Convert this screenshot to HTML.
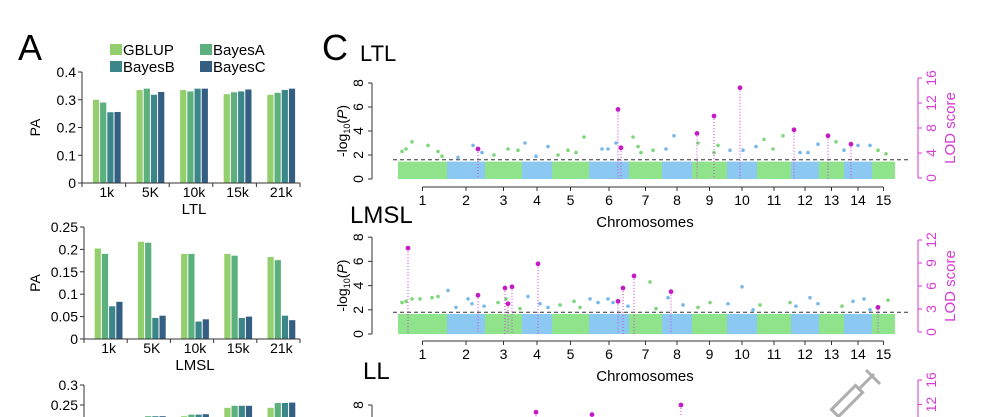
<!DOCTYPE html>
<html><head><meta charset="utf-8">
<style>
html,body{margin:0;padding:0;background:#fff;overflow:hidden;width:981px;height:417px;}
svg{display:block;font-family:"Liberation Sans",Arial,sans-serif;}
</style></head>
<body>
<svg id="fig" width="981" height="417" viewBox="0 0 981 417"></svg>
<script>
// ---------- Panel A data ----------
const barCats = ["1k","5K","10k","15k","21k"];
const methods = ["GBLUP","BayesA","BayesB","BayesC"];
const ltlGBLUP  = [0.300,0.335,0.335,0.320,0.318];
const ltlBayesA = [0.290,0.340,0.330,0.327,0.325];
const ltlBayesB = [0.255,0.318,0.340,0.330,0.335];
const ltlBayesC = [0.256,0.328,0.340,0.337,0.340];
const lmslGBLUP  = [0.202,0.217,0.190,0.190,0.183];
const lmslBayesA = [0.190,0.215,0.190,0.186,0.176];
const lmslBayesB = [0.073,0.047,0.039,0.047,0.052];
const lmslBayesC = [0.083,0.052,0.044,0.050,0.042];
const llGBLUP  = [0.195,0.218,0.222,0.243,0.243];
const llBayesA = [0.195,0.222,0.226,0.248,0.255];
const llBayesB = [0.195,0.222,0.226,0.248,0.255];
const llBayesC = [0.195,0.222,0.227,0.248,0.256];
const ltlTicks = [0,0.1,0.2,0.3,0.4];
const ltlTickLabels = ["0","0.1","0.2","0.3","0.4"];
const lmslTicks = [0,0.05,0.1,0.15,0.2,0.25];
const lmslTickLabels = ["0","0.05","0.1","0.15","0.2","0.25"];
const llTicks = [0.2,0.25,0.3];
const llTickLabels = ["0.2","0.25","0.3"];
const colors = ["#93cf6c","#5bb07d","#3b8689","#355f82"];

// ---------- Panel C data ----------
const chrNames = ["1","2","3","4","5","6","7","8","9","10","11","12","13","14","15"];
const chrLengths = [49,38,37,30,37,40,33,30,35,30,34,28,25,28,23];
const ltlThreshold = 1.6;
const lmslThreshold = 1.8;
const lodTicksLTL = [0,4,8,12,16];
const lodTicksLMSL = [0,3,6,9,12];
const ltlPeakPos = [80,220,223,299,316,342,396,430,453];
const ltlPeakVal = [2.5,5.8,2.6,3.8,5.25,7.6,4.1,3.6,2.9];
const lmslPeakPos = [10,80,107,110,114,140,220,225,236,273,480];
const lmslPeakVal = [7.1,3.2,3.8,2.5,3.9,5.8,2.7,3.8,4.8,3.5,2.2];
const ltlSnpPos = [4,8,14,30,40,44,60,75,84,96,110,120,127,138,150,160,170,178,186,204,210,218,235,240,243,255,268,276,300,316,320,332,345,358,366,375,385,402,410,420,438,446,460,472,480,488];
const ltlSnpVal = [2.3,2.5,3.1,2.8,2.3,1.9,1.8,2.8,2.2,2.0,2.5,2.4,3.0,1.9,2.7,2.0,2.4,2.2,3.5,2.5,2.5,3.0,3.5,2.7,2.2,2.4,2.5,3.6,3.0,2.2,2.8,2.4,2.4,2.7,3.3,2.5,3.6,2.2,2.2,2.9,3.1,2.4,2.8,2.8,2.4,2.1];
const lmslSnpPos = [4,8,14,22,34,40,50,58,70,74,86,100,108,122,130,142,150,162,176,182,192,200,210,215,230,252,258,270,285,300,312,330,344,355,362,392,398,412,420,444,455,466,472,490];
const lmslSnpVal = [2.6,2.7,2.9,2.9,3.0,3.1,3.6,2.2,2.9,2.5,2.3,2.6,2.9,2.1,3.1,2.5,2.2,2.4,2.7,2.2,2.9,2.6,2.9,2.6,2.3,4.3,2.1,3.0,2.4,2.2,2.6,2.5,3.9,2.0,2.4,2.6,2.3,3.0,2.5,2.3,2.7,2.9,2.0,2.8];
const llPeakPos = [138,194,283];
const llPeakVal = [7.4,7.2,8.0];

const svg = document.getElementById('fig');
const NS = "http://www.w3.org/2000/svg";
function mk(tag, attrs, parent){
  const e = document.createElementNS(NS, tag);
  for (const k in attrs) e.setAttribute(k, attrs[k]);
  (parent||svg).appendChild(e);
  return e;
}
function txt(s, attrs, parent){ const t = mk('text', attrs, parent); t.textContent = s; return t; }

let t;
t = txt("A",{x:18,y:60,"font-size":36});
 
t = txt("C",{x:322,y:60,"font-size":36});
 

const legPos = [[110,55],[200,55],[110,72],[200,72]];
methods.forEach((m,i)=>{
  const g = mk('g',{});
  
  
  mk('rect',{x:legPos[i][0],y:legPos[i][1]-11,width:12,height:11,fill:colors[i]},g);
  txt(m,{x:legPos[i][0]+13,y:legPos[i][1],"font-size":15},g);
});

function barChart(name, series, ticks, tickLabels, yMin, yMax, y0px, y1px, axisX, axisEnd, xTitle, catY, showX){
  const g = mk('g',{});
  
  
  const ys = v => y0px + (v - yMin)/(yMax - yMin)*(y1px - y0px);
  const band = (axisEnd - axisX)/barCats.length;
  const xc = i => axisX + 5 + band*(i+0.5) - 2;
  const bottom = showX ? ys(yMin) : 417;
  series.forEach((arr,si)=>{
    arr.forEach((v,ci)=>{
      const bw = 6.2, x = xc(ci) - 2*bw - 1.5 + si*(bw+1);
      const yt = ys(v);
      const r = mk('rect',{x:x,y:yt,width:bw,height:Math.max(0,bottom-yt),fill:colors[si]},g);
      
      
    });
  });
  const top = ys(ticks[ticks.length-1]);
  mk('line',{x1:axisX,y1:top,x2:axisX,y2:bottom,stroke:"#333","stroke-width":1},g);
  ticks.forEach((tv,i)=>{
    const y = ys(tv);
    if (y > 416) return;
    mk('line',{x1:axisX-4,y1:y,x2:axisX,y2:y,stroke:"#333"},g);
    txt(tickLabels[i],{x:axisX-6,y:y+5,"font-size":14,"text-anchor":"end"},g);
  });
  if (showX){
    const yb = ys(yMin);
    mk('line',{x1:axisX,y1:yb,x2:axisEnd,y2:yb,stroke:"#333"},g);
    for (let i=0;i<=barCats.length;i++){
      const x = axisX + band*i;
      mk('line',{x1:x,y1:yb,x2:x,y2:yb+4,stroke:"#333"},g);
    }
    barCats.forEach((c,i)=> txt(c,{x:xc(i),y:catY,"font-size":14,"text-anchor":"middle"},g));
    txt(xTitle,{x:(axisX+axisEnd)/2+3,y:catY+17,"font-size":15,"text-anchor":"middle"},g);
    txt("PA",{x:0,y:0,"font-size":14,"text-anchor":"middle",transform:"translate(40,"+((top+yb)/2)+") rotate(-90)"},g);
  }
  return g;
}
barChart('bar-chart-ltl',[ltlGBLUP,ltlBayesA,ltlBayesB,ltlBayesC],ltlTicks,ltlTickLabels,0,0.4,183,72,82,300,"LTL",197,true);
barChart('bar-chart-lmsl',[lmslGBLUP,lmslBayesA,lmslBayesB,lmslBayesC],lmslTicks,lmslTickLabels,0,0.25,339,227,84,300,"LMSL",353,true);
barChart('bar-chart-ll',[llGBLUP,llBayesA,llBayesB,llBayesC],llTicks,llTickLabels,0.2,0.3,425,385,84,300,"LL",0,false);

const gStart = 398;
const cum = []; let acc = 0;
chrLengths.forEach(l=>{cum.push(acc); acc += l;});
const genomeLen = acc;
const gx = p => gStart + p*(497/genomeLen);
const pink = "#d63ad6";

function manhattan(name, title, titleXY, y0, pxPerUnit, thr, peakPos, peakVal, snpPos, snpVal, lodTicks, lodMax, chrAxisY, lodY0, lodYTop, showAxis){
  const g = mk('g',{});
  
  
  const ys = v => y0 - v*pxPerUnit;
  if (title){
    const tt = txt(title,{x:titleXY[0],y:titleXY[1],"font-size":title==="LTL"?22:24},g);
    
    
  }
  if (showAxis){
    chrLengths.forEach((l,i)=>{
      const r = mk('rect',{x:gx(cum[i]),y:ys(thr-0.15),width:gx(cum[i]+l)-gx(cum[i]),height:ys(0)-ys(thr-0.15),fill:i%2===0?"#8ee38b":"#8cc9f2"},g);
      
      
    });
  }
  snpPos.forEach((p,i)=>{
    const ci = cum.findIndex((c,k)=> p>=c && p<c+chrLengths[k]);
    const c = mk('circle',{cx:gx(p),cy:ys(snpVal[i]),r:1.8,fill:ci%2===0?"#7fd67a":"#78b8ea"},g);
    
    
  });
  if (showAxis){
    const th = mk('line',{x1:gStart-5,y1:ys(thr),x2:908,y2:ys(thr),stroke:"#333","stroke-dasharray":"4,3","stroke-width":1},g);
    
    
  }
  peakPos.forEach((p,i)=>{
    mk('line',{x1:gx(p),y1:ys(peakVal[i]),x2:gx(p),y2:Math.min(417,ys(0)),stroke:pink,"stroke-dasharray":"1,2","stroke-width":1},g);
    const c = mk('circle',{cx:gx(p),cy:ys(peakVal[i]),r:2.4,fill:"#c21cc2"},g);
    
    
  });
  const yTicks=[0,2,4,6,8];
  mk('line',{x1:372,y1:ys(8),x2:372,y2:Math.min(417,ys(0)),stroke:"#333"},g);
  yTicks.forEach(v=>{
    if (ys(v) > 416) return;
    mk('line',{x1:368,y1:ys(v),x2:372,y2:ys(v),stroke:"#333"},g);
    txt(String(v),{x:0,y:0,"font-size":14,"text-anchor":"middle",transform:"translate(363,"+ys(v)+") rotate(-90)"},g);
  });
  if (showAxis){
    const yl = mk('text',{x:0,y:0,"font-size":14,"text-anchor":"middle",transform:"translate(347,"+ys(4)+") rotate(-90)"},g);
    yl.innerHTML = '-log<tspan font-size="9" dy="3">10</tspan><tspan dy="-3">(</tspan><tspan font-style="italic">P</tspan>)';
    
    
    const cx0 = gx(cum[0]+chrLengths[0]/2), cx1 = gx(cum[14]+chrLengths[14]/2);
    mk('line',{x1:cx0,y1:chrAxisY,x2:cx1,y2:chrAxisY,stroke:"#333"},g);
    chrNames.forEach((n,i)=>{
      const x = gx(cum[i]+chrLengths[i]/2);
      mk('line',{x1:x,y1:chrAxisY,x2:x,y2:chrAxisY+4,stroke:"#333"},g);
      txt(n,{x:x,y:chrAxisY+18,"font-size":14,"text-anchor":"middle"},g);
    });
    const xt = txt("Chromosomes",{x:645,y:chrAxisY+40,"font-size":15,"text-anchor":"middle"},g);
    
    
  }
  const ly = v => lodY0 - v/lodMax*(lodY0-lodYTop);
  mk('line',{x1:918,y1:ly(lodMax),x2:918,y2:Math.min(417,ly(0)),stroke:pink},g);
  lodTicks.forEach(v=>{
    if (ly(v) > 412) return;
    mk('line',{x1:918,y1:ly(v),x2:922,y2:ly(v),stroke:pink},g);
    txt(String(v),{x:0,y:0,"font-size":14,fill:pink,"text-anchor":"middle",transform:"translate(936,"+ly(v)+") rotate(-90)"},g);
  });
  if (showAxis){
    const lt = txt("LOD score",{x:0,y:0,"font-size":15,fill:pink,"text-anchor":"middle",transform:"translate(955,"+ly(lodMax/2)+") rotate(-90)"},g);
    
    
  }
}
manhattan('manhattan-ltl','LTL',[360,61],179,12,ltlThreshold,ltlPeakPos,ltlPeakVal,ltlSnpPos,ltlSnpVal,lodTicksLTL,16,187,178,78,true);
manhattan('manhattan-lmsl','LMSL',[350,223],334,12.1,lmslThreshold,lmslPeakPos,lmslPeakVal,lmslSnpPos,lmslSnpVal,lodTicksLMSL,12,341,332,240,true);
manhattan('manhattan-ll','LL',[363,379],501,12,1.8,llPeakPos,llPeakVal,[],[],lodTicksLTL,16,999,478,380,false);

const wm = mk('g',{fill:"none",stroke:"#9a9a9a","stroke-width":3,opacity:0.8});


mk('rect',{x:830,y:396,width:34,height:10,transform:"rotate(-45 847 401)"},wm);
mk('line',{x1:858,y1:390,x2:874,y2:374},wm);
mk('line',{x1:866,y1:370,x2:880,y2:384},wm);
</script>
</body></html>
